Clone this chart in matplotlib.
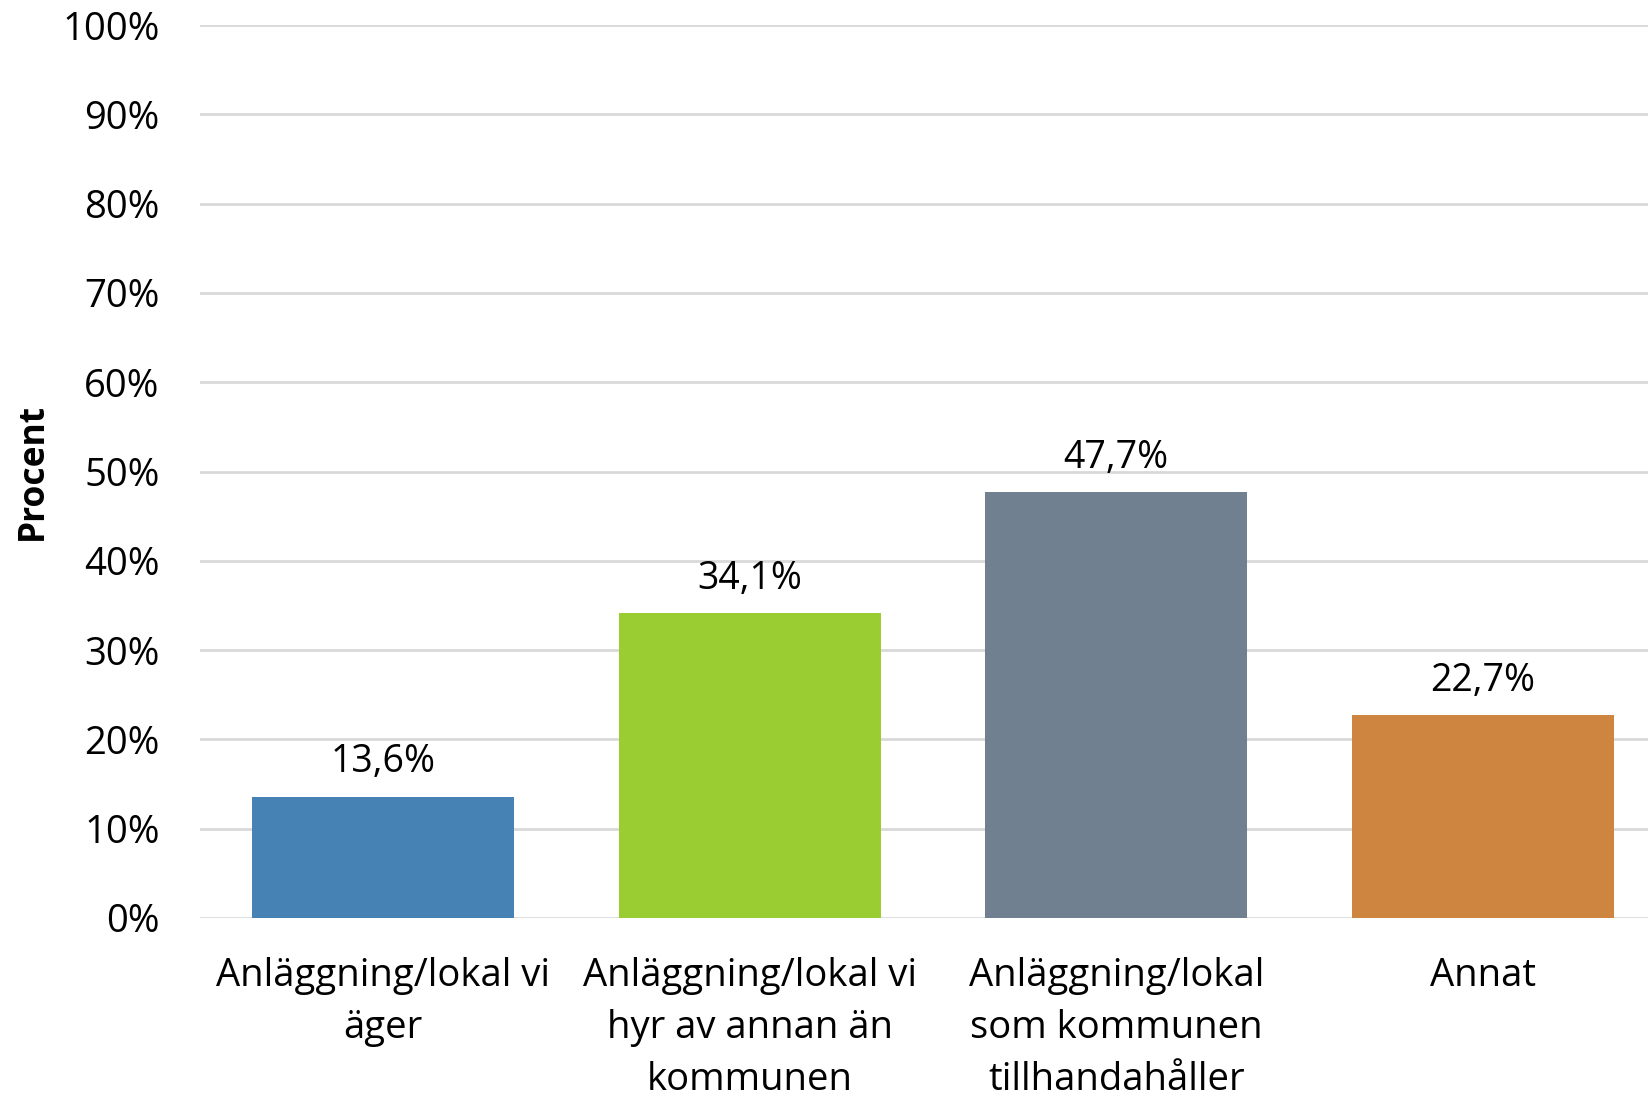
import matplotlib
matplotlib.use("Agg")
import matplotlib.pyplot as plt
from matplotlib.ticker import FuncFormatter

plt.rcParams['font.family'] = ['Open Sans', 'DejaVu Sans']

categories = ["Anläggning/lokal vi\näger",
              "Anläggning/lokal vi\nhyr av annan än\nkommunen",
              "Anläggning/lokal\nsom kommunen\ntillhandahåller",
              "Annat"]
values = [13.6, 34.1, 47.7, 22.7]
colors = ["#4682B4", "#9ACD32", "#708090", "#CD853F"]
yticks = [0, 10, 20, 30, 40, 50, 60, 70, 80, 90, 100]

W, H = 1649, 1096
fig = plt.figure(figsize=(W/100, H/100), dpi=100)
left = 200/W
bottom = 1 - 918/H
top = 1 - 25/H
ax = fig.add_axes([left, bottom, 1 - left, top - bottom])

x = list(range(len(categories)))
bars = ax.bar(x, values, width=0.715, color=colors, zorder=3)

ax.set_ylim(0, 100)
ax.set_xlim(-0.5, -0.5 + (W - 200) / 366.5)
ax.set_yticks(yticks)
ax.yaxis.set_major_formatter(FuncFormatter(lambda v, p: f"{int(v)}%"))
ax.grid(axis='y', color='#d9d9d9', linewidth=2, zorder=0)
ax.set_axisbelow(True)
for s in ax.spines.values():
    s.set_visible(False)
ax.tick_params(axis='both', length=0, labelsize=27.5)
ax.tick_params(axis='y', pad=29)
ax.set_xticks(x)
ax.set_xticklabels(categories, linespacing=1.48)
ax.tick_params(axis='x', pad=28)

for xi, v in zip(x, values):
    ax.annotate(f"{v:.1f}%".replace('.', ','), (xi, v), xytext=(0, 11),
                textcoords='offset points', ha='center', va='bottom',
                fontsize=27, color='black')

fig.text(33/W, 1 - 471/H, "Procent", rotation=90, ha='center', va='center',
         fontsize=25.5, fontweight='bold')

fig.savefig("out.png", dpi=100, facecolor='white')
